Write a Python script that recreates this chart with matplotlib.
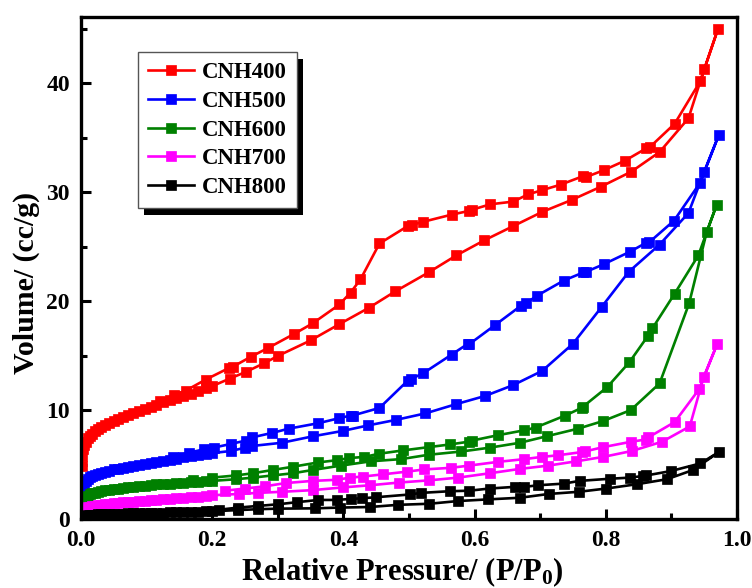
import matplotlib
matplotlib.use("Agg")
import matplotlib.pyplot as plt
from matplotlib.patches import Rectangle
from matplotlib.ticker import MultipleLocator

plt.rcParams['font.family'] = ['Liberation Serif', 'DejaVu Serif']
plt.rcParams['font.weight'] = 'bold'
plt.rcParams['mathtext.fontset'] = 'custom'
plt.rcParams['mathtext.rm'] = 'Liberation Serif:bold'
plt.rcParams['mathtext.it'] = 'Liberation Serif:bold'
plt.rcParams['mathtext.bf'] = 'Liberation Serif:bold'

labels = ['CNH400', 'CNH500', 'CNH600', 'CNH700', 'CNH800']
colors = ['#ff0000', '#0000ff', '#008000', '#ff00ff', '#000000']

# low-pressure adsorption points shared by all samples
low_p = [0.001, 0.002, 0.003, 0.005, 0.007, 0.01, 0.013, 0.017, 0.021, 0.026, 0.031, 0.037,
         0.043, 0.05, 0.057, 0.064, 0.072, 0.08, 0.088, 0.097, 0.106, 0.115, 0.125, 0.135,
         0.145, 0.156, 0.167, 0.178, 0.19, 0.2]

# ---- CNH400 ----
cnh400_low_v = [4.9, 5.8, 6.4, 6.8, 7.1, 7.4, 7.6, 7.85, 8.05, 8.25, 8.45, 8.6,
                8.8, 9.0, 9.15, 9.35, 9.55, 9.75, 9.9, 10.1, 10.3, 10.5, 10.7, 10.9,
                11.1, 11.3, 11.5, 11.75, 12.0, 12.2]
cnh400_ads_p = [0.227, 0.251, 0.279, 0.301, 0.35, 0.394, 0.439, 0.479, 0.53, 0.572, 0.615, 0.659,
                0.703, 0.748, 0.792, 0.839, 0.882, 0.926, 0.95, 0.971]
cnh400_ads_v = [12.9, 13.5, 14.3, 15.0, 16.4, 17.9, 19.4, 20.9, 22.65, 24.2, 25.6, 26.9,
                28.2, 29.3, 30.5, 31.9, 33.7, 36.8, 41.3, 45.0]
cnh400_des_p = [0.944, 0.905, 0.868, 0.862, 0.829, 0.798, 0.770, 0.766, 0.731, 0.703, 0.681, 0.659,
                0.624, 0.596, 0.592, 0.565, 0.522, 0.504, 0.498, 0.455, 0.426, 0.411, 0.394, 0.353,
                0.325, 0.285, 0.259, 0.232, 0.225, 0.19, 0.16, 0.142, 0.12]
cnh400_des_v = [40.2, 36.3, 34.2, 34.05, 32.9, 32.06, 31.4, 31.5, 30.7, 30.2, 29.8, 29.15,
                28.9, 28.4, 28.3, 27.95, 27.3, 27.0, 26.9, 25.3, 22.0, 20.8, 19.7, 17.96,
                17.0, 15.7, 14.9, 14.0, 13.85, 12.8, 11.8, 11.4, 10.8]

# ---- CNH500 ----
cnh500_low_v = [2.4, 2.8, 3.05, 3.3, 3.5, 3.7, 3.82, 3.95, 4.05, 4.15, 4.25, 4.35,
                4.45, 4.55, 4.62, 4.7, 4.78, 4.86, 4.95, 5.05, 5.15, 5.25, 5.35, 5.45,
                5.55, 5.65, 5.75, 5.85, 5.95, 6.05]
cnh500_ads_p = [0.229, 0.25, 0.26, 0.306, 0.354, 0.400, 0.438, 0.480, 0.525, 0.572, 0.616, 0.659,
                0.703, 0.750, 0.794, 0.835, 0.882, 0.926, 0.950, 0.9725]
cnh500_ads_v = [6.25, 6.55, 6.7, 7.0, 7.6, 8.1, 8.6, 9.1, 9.7, 10.55, 11.3, 12.3,
                13.6, 16.1, 19.5, 22.7, 25.2, 28.1, 31.9, 35.3]
cnh500_des_p = [0.944, 0.904, 0.866, 0.861, 0.837, 0.797, 0.770, 0.766, 0.736, 0.695, 0.678, 0.671,
                0.631, 0.592, 0.590, 0.565, 0.522, 0.503, 0.498, 0.455, 0.414, 0.411, 0.393, 0.362,
                0.317, 0.291, 0.261, 0.251, 0.229, 0.202, 0.188, 0.165, 0.14]
cnh500_des_v = [30.9, 27.4, 25.4, 25.35, 24.55, 23.4, 22.7, 22.65, 21.9, 20.5, 19.8, 19.6,
                17.8, 16.06, 16.1, 15.1, 13.4, 12.85, 12.7, 10.2, 9.5, 9.5, 9.25, 8.8,
                8.3, 7.9, 7.5, 7.2, 6.9, 6.55, 6.4, 6.1, 5.7]

# ---- CNH600 ----
cnh600_low_v = [1.4, 1.65, 1.8, 1.95, 2.05, 2.15, 2.25, 2.35, 2.42, 2.5, 2.56, 2.62,
                2.68, 2.74, 2.8, 2.86, 2.92, 2.97, 3.02, 3.07, 3.12, 3.17, 3.21, 3.25,
                3.29, 3.33, 3.37, 3.41, 3.45, 3.5]
cnh600_ads_p = [0.236, 0.262, 0.292, 0.323, 0.353, 0.396, 0.442, 0.488, 0.530, 0.580, 0.623, 0.669,
                0.710, 0.758, 0.796, 0.838, 0.882, 0.927, 0.954, 0.969]
cnh600_ads_v = [3.65, 3.8, 4.0, 4.2, 4.5, 4.9, 5.3, 5.5, 5.9, 6.2, 6.55, 7.0,
                7.6, 8.3, 9.0, 10.0, 12.45, 19.8, 26.4, 28.85]
cnh600_des_p = [0.941, 0.905, 0.871, 0.864, 0.836, 0.802, 0.765, 0.763, 0.738, 0.693, 0.676, 0.636,
                0.596, 0.591, 0.563, 0.530, 0.491, 0.455, 0.432, 0.409, 0.390, 0.362, 0.323, 0.292,
                0.262, 0.236, 0.2, 0.17]
cnh600_des_v = [24.2, 20.7, 17.5, 16.8, 14.4, 12.1, 10.3, 10.2, 9.5, 8.4, 8.15, 7.7,
                7.2, 7.1, 6.85, 6.6, 6.3, 6.0, 5.7, 5.6, 5.4, 5.2, 4.8, 4.5,
                4.2, 4.0, 3.8, 3.6]

# ---- CNH700 ----
cnh700_low_v = [0.7, 0.8, 0.88, 0.95, 1.0, 1.07, 1.12, 1.17, 1.22, 1.27, 1.31, 1.35,
                1.39, 1.44, 1.48, 1.52, 1.56, 1.6, 1.64, 1.68, 1.72, 1.76, 1.8, 1.85,
                1.9, 1.95, 2.0, 2.05, 2.12, 2.18]
cnh700_ads_p = [0.241, 0.27, 0.307, 0.353, 0.399, 0.441, 0.485, 0.531, 0.575, 0.623, 0.669, 0.712,
                0.755, 0.796, 0.840, 0.886, 0.928, 0.949, 0.970]
cnh700_ads_v = [2.3, 2.4, 2.5, 2.65, 2.9, 3.1, 3.35, 3.55, 3.8, 4.2, 4.6, 4.9,
                5.3, 5.7, 6.25, 7.1, 8.5, 13.0, 16.1]
cnh700_des_p = [0.942, 0.905, 0.865, 0.861, 0.839, 0.796, 0.768, 0.764, 0.727, 0.702, 0.676, 0.636,
                0.591, 0.564, 0.523, 0.497, 0.46, 0.43, 0.41, 0.39, 0.353, 0.312, 0.28, 0.25, 0.22]
cnh700_des_v = [11.9, 8.9, 7.5, 7.3, 7.1, 6.6, 6.2, 6.15, 5.85, 5.7, 5.5, 5.25,
                4.9, 4.7, 4.55, 4.35, 4.1, 3.9, 3.8, 3.6, 3.5, 3.3, 3.0, 2.8, 2.6]

# ---- CNH800 ----
cnh800_low_v = [0.2, 0.24, 0.27, 0.3, 0.32, 0.34, 0.36, 0.38, 0.4, 0.42, 0.43, 0.45,
                0.46, 0.48, 0.49, 0.5, 0.51, 0.53, 0.54, 0.55, 0.56, 0.58, 0.59, 0.6,
                0.62, 0.63, 0.65, 0.67, 0.69, 0.71]
cnh800_ads_p = [0.24, 0.27, 0.3, 0.356, 0.395, 0.44, 0.483, 0.531, 0.575, 0.620, 0.669,
                0.713, 0.759, 0.801, 0.848, 0.893, 0.933, 0.9725]
cnh800_ads_v = [0.82, 0.9, 0.95, 0.98, 1.05, 1.1, 1.3, 1.4, 1.65, 1.8, 1.95,
                2.3, 2.5, 2.8, 3.2, 3.65, 4.5, 6.15]
cnh800_des_p = [0.944, 0.899, 0.862, 0.857, 0.837, 0.807, 0.760, 0.736, 0.697, 0.676, 0.661, 0.623,
                0.592, 0.562, 0.519, 0.501, 0.45, 0.428, 0.412, 0.39, 0.362, 0.33, 0.3, 0.27,
                0.24, 0.21]
cnh800_des_v = [5.1, 4.4, 4.0, 3.95, 3.8, 3.7, 3.5, 3.25, 3.1, 2.95, 2.95, 2.8,
                2.6, 2.55, 2.4, 2.25, 2.0, 1.9, 1.85, 1.75, 1.75, 1.55, 1.35, 1.2,
                1.05, 0.85]

series = [
    (cnh400_low_v, cnh400_ads_p, cnh400_ads_v, cnh400_des_p, cnh400_des_v),
    (cnh500_low_v, cnh500_ads_p, cnh500_ads_v, cnh500_des_p, cnh500_des_v),
    (cnh600_low_v, cnh600_ads_p, cnh600_ads_v, cnh600_des_p, cnh600_des_v),
    (cnh700_low_v, cnh700_ads_p, cnh700_ads_v, cnh700_des_p, cnh700_des_v),
    (cnh800_low_v, cnh800_ads_p, cnh800_ads_v, cnh800_des_p, cnh800_des_v),
]

x_ticks = [0.0, 0.2, 0.4, 0.6, 0.8, 1.0]
x_ticklabels = ['0.0', '0.2', '0.4', '0.6', '0.8', '1.0']
y_ticks = [0, 10, 20, 30, 40]
y_ticklabels = ['0', '10', '20', '30', '40']

fig = plt.figure(figsize=(7.52, 5.88), dpi=100)
ax = fig.add_axes([81 / 752, 1 - 519 / 588, 656 / 752, 502 / 588])

for (lv, ap, av, dp, dv), lab, col in zip(series, labels, colors):
    xs = list(low_p) + list(ap) + list(dp)
    ys = list(lv) + list(av) + list(dv)
    ax.plot(xs, ys, color=col, lw=1.9, marker='s', ms=6.8, mec=col, mfc=col,
            mew=0.5, label=lab)

ax.set_xlim(0, 1.0)
ax.set_ylim(0, 46.1)
ax.set_xticks(x_ticks)
ax.set_xticklabels(x_ticklabels)
ax.set_yticks(y_ticks)
ax.set_yticklabels(y_ticklabels)
ax.xaxis.set_minor_locator(MultipleLocator(0.1))
ax.yaxis.set_minor_locator(MultipleLocator(5))
ax.tick_params(which='both', direction='in', width=2.2, labelsize=17, top=False, right=False)
ax.tick_params(which='major', length=7, pad=8)
ax.tick_params(which='minor', length=4.5)
for sp in ax.spines.values():
    sp.set_linewidth(2.4)

ax.set_xlabel('Relative Pressure/ (P/P$_0$)', fontsize=22, fontweight='bold')
ax.set_ylabel('Volume/ (cc/g)', fontsize=21.5, fontweight='bold')
ax.xaxis.set_label_coords(0.49, -0.072)
ax.yaxis.set_label_coords(-0.062, 0.47)

leg = ax.legend(loc='upper left', bbox_to_anchor=(0.087, 0.930), borderaxespad=0,
                prop={'weight': 'bold', 'size': 16.5}, frameon=True, fancybox=False,
                edgecolor='#555555', framealpha=1, handlelength=2.0, handletextpad=0.35,
                labelspacing=0.33, borderpad=0.45)
leg.get_frame().set_linewidth(1.0)

fig.canvas.draw()
bb = leg.get_window_extent().transformed(fig.transFigure.inverted())
shadow = Rectangle((bb.x0 + 6 / 752, bb.y0 - 7 / 588), bb.width, bb.height,
                   transform=fig.transFigure, facecolor='black', edgecolor='none', zorder=4)
ax.add_artist(shadow)
shadow.set_clip_on(False)
leg.set_zorder(6)

fig.savefig('out.png', dpi=100)
